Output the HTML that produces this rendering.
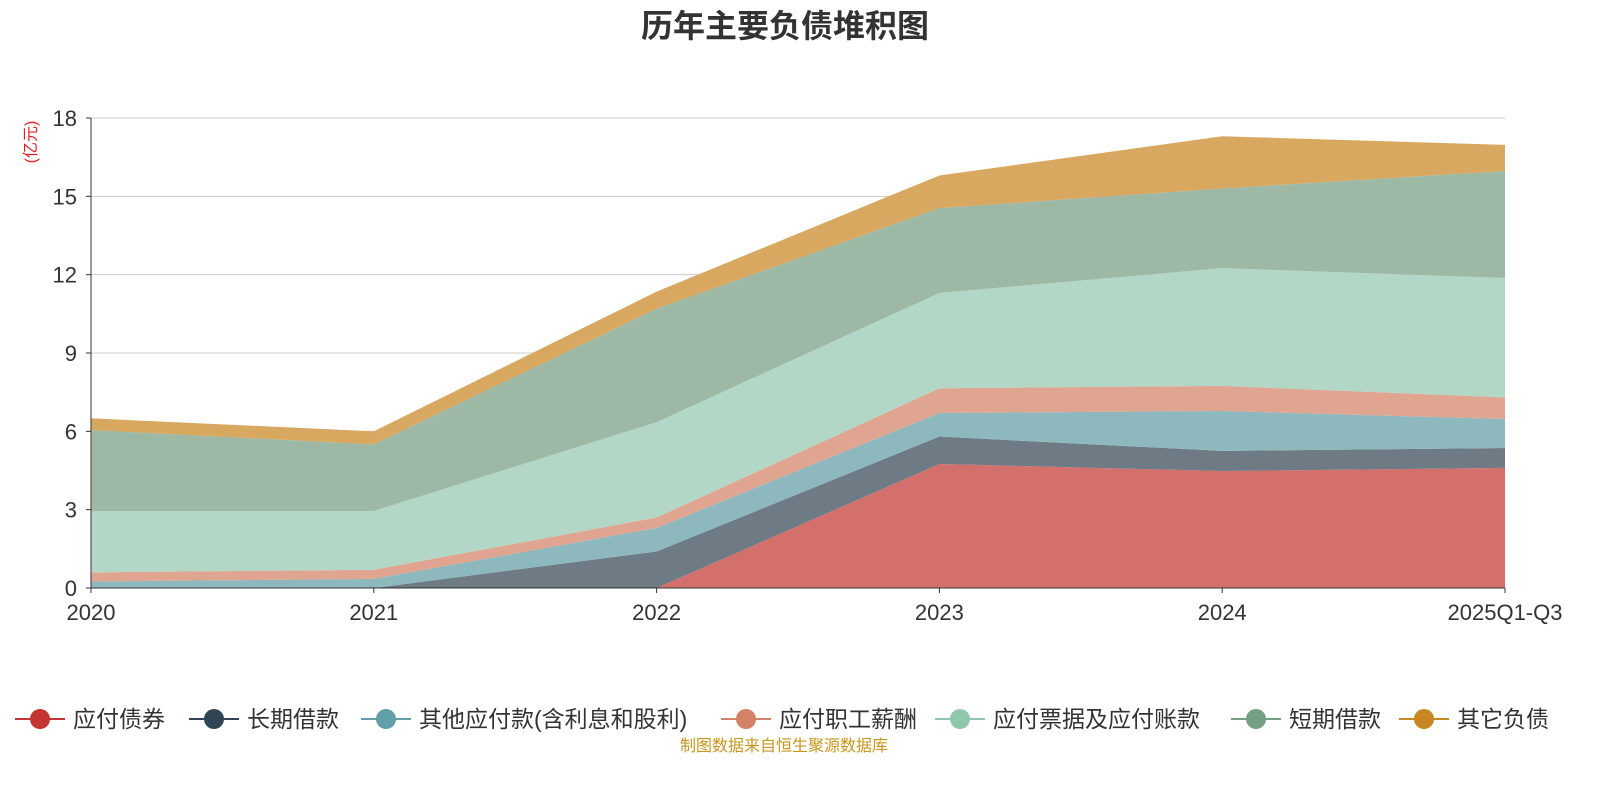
<!DOCTYPE html>
<html><head><meta charset="utf-8"><style>
body{margin:0;background:#fff;font-family:"Liberation Sans","Noto Sans CJK SC",sans-serif;}
</style></head><body>
<svg width="1600" height="800" xmlns="http://www.w3.org/2000/svg" id="svg" font-family="Liberation Sans, Noto Sans CJK SC, sans-serif">
<text x="785" y="37" text-anchor="middle" font-size="32" font-weight="bold" fill="#333">历年主要负债堆积图</text>
<text transform="translate(36,142) rotate(-90)" text-anchor="middle" font-size="16" fill="#e02020">(亿元)</text>
<g id="grid"></g><g id="areas"></g><g id="axes"></g><g id="legend"></g>
<text x="784" y="751" text-anchor="middle" font-size="16" fill="#c8961e">制图数据来自恒生聚源数据库</text>
</svg>
<script>
const categories=["2020","2021","2022","2023","2024","2025Q1-Q3"];
const seriesNames=["应付债券","长期借款","其他应付款(含利息和股利)","应付职工薪酬","应付票据及应付账款","短期借款","其它负债"];
const s0=[0,0,0,4.75,4.48,4.6];
const s1=[0,0,1.4,1.05,0.77,0.76];
const s2=[0.25,0.35,0.9,0.9,1.53,1.11];
const s3=[0.35,0.35,0.4,0.95,0.96,0.83];
const s4=[2.35,2.25,3.65,3.65,4.51,4.57];
const s5=[3.1,2.55,4.35,3.25,3.05,4.1];
const s6=[0.45,0.5,0.65,1.25,2.0,1.0];
const yTicks=[0,3,6,9,12,15,18];
const series=[s0,s1,s2,s3,s4,s5,s6];
const fills=["#d4706c","#6e7b85","#8db8bd","#e0a591","#b2d7c6","#9db9a6","#d8a860"];
const marks=["#c23531","#2f4554","#61a0a8","#d48265","#91c7ae","#749f83","#ca8622"];
const X0=91,X1=1505,Y0=588,Y1=118;
const xs=i=>X0+(X1-X0)*i/(categories.length-1);
const ys=v=>Y0-(Y0-Y1)*v/18;
const NS="http://www.w3.org/2000/svg";
function mk(t,a,p){const e=document.createElementNS(NS,t);for(const k in a)e.setAttribute(k,a[k]);p.appendChild(e);return e;}
const grid=document.getElementById('grid'),axes=document.getElementById('axes'),areas=document.getElementById('areas'),leg=document.getElementById('legend');
yTicks.forEach(t=>{
 if(t>0){const l=mk('line',{x1:X0,x2:X1,y1:ys(t),y2:ys(t),stroke:'#ccc'},grid);
 
 }
 const tx=mk('text',{x:X0-14,y:ys(t)+8,'text-anchor':'end','font-size':22,fill:'#333'},axes);tx.textContent=t;
 
 
 mk('line',{x1:X0-5,x2:X0,y1:ys(t),y2:ys(t),stroke:'#333'},axes);
});
let base=categories.map(()=>0);
series.forEach((s,k)=>{
 const top=base.map((b,i)=>b+s[i]);
 let d='M'+top.map((v,i)=>xs(i)+','+ys(v)).join('L');
 for(let i=categories.length-1;i>=0;i--)d+='L'+xs(i)+','+ys(base[i]);
 const p=mk('path',{d:d+'Z',fill:fills[k]},areas);
 
 
 base=top;
});
mk('line',{x1:X0,x2:X0,y1:Y1,y2:Y0,stroke:'#333'},axes);
mk('line',{x1:X0,x2:X1,y1:Y0,y2:Y0,stroke:'#333'},axes);
categories.forEach((c,i)=>{
 mk('line',{x1:xs(i),x2:xs(i),y1:Y0,y2:Y0+5,stroke:'#333'},axes);
 const t=mk('text',{x:xs(i),y:Y0+32,'text-anchor':'middle','font-size':22,fill:'#333'},axes);t.textContent=c;
 
 
});
const lx=[40,214,386,746,960,1256,1424];
seriesNames.forEach((n,k)=>{
 const g=mk('g',{},leg);
 
 
 mk('line',{x1:lx[k]-25,x2:lx[k]+25,y1:719,y2:719,stroke:marks[k],'stroke-width':2},g);
 mk('circle',{cx:lx[k],cy:719,r:10,fill:marks[k]},g);
 const t=mk('text',{x:lx[k]+33,y:727,'font-size':23,fill:'#333'},g);t.textContent=n;
});
</script>
</body></html>
